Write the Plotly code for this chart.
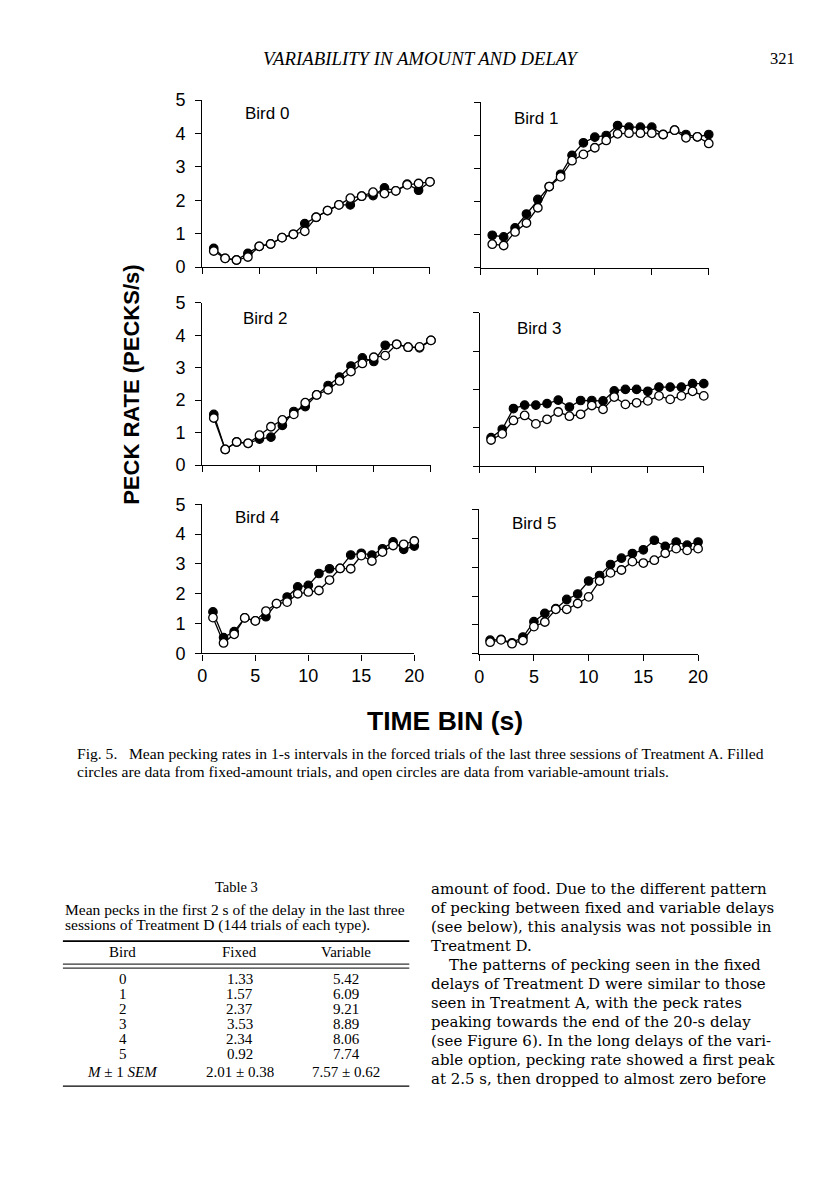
import plotly.graph_objects as go

# Figure size chosen so the page (with the browser's body margin) fits the window.
W, H = 800, 1184
# measured mapping from figure pixels to picture pixels: pic = OFF + SCALE * fig
SCALE = 0.983
OFF_X, OFF_Y = 13.0, 17.0

time_bins = list(range(1, 21))
x_ticks = [0, 5, 10, 15, 20]
y_ticks = [0, 1, 2, 3, 4, 5]
y_ticks_bird3 = [0, 1, 2, 3, 4]

bird_names = ["Bird 0", "Bird 1", "Bird 2", "Bird 3", "Bird 4", "Bird 5"]

bird0_fixed = [0.56, 0.26, 0.21, 0.41, 0.62, 0.69, 0.88, 0.98, 1.30, 1.49, 1.69, 1.86, 1.86, 2.12, 2.14, 2.37, 2.28, 2.48, 2.30, 2.55]
bird0_var = [0.48, 0.26, 0.21, 0.30, 0.62, 0.69, 0.88, 0.98, 1.07, 1.49, 1.69, 1.86, 2.06, 2.12, 2.24, 2.20, 2.28, 2.46, 2.50, 2.55]
bird1_fixed = [0.98, 0.93, 1.20, 1.62, 2.06, 2.45, 2.82, 3.39, 3.77, 3.94, 3.99, 4.29, 4.24, 4.24, 4.24, 4.02, 4.15, 4.02, 3.95, 4.02]
bird1_var = [0.71, 0.67, 1.08, 1.35, 1.81, 2.45, 2.74, 3.23, 3.42, 3.62, 3.84, 4.04, 4.06, 4.06, 4.06, 4.02, 4.15, 3.92, 3.95, 3.75]
bird2_fixed = [1.56, 0.48, 0.71, 0.67, 0.80, 0.86, 1.22, 1.65, 1.80, 2.16, 2.45, 2.71, 3.05, 3.30, 3.19, 3.69, 3.72, 3.63, 3.61, 3.84]
bird2_var = [1.45, 0.48, 0.71, 0.67, 0.92, 1.18, 1.39, 1.56, 1.92, 2.16, 2.32, 2.59, 2.88, 3.13, 3.32, 3.37, 3.72, 3.63, 3.64, 3.84]
bird3_fixed = [0.74, 0.96, 1.50, 1.59, 1.59, 1.63, 1.72, 1.54, 1.71, 1.71, 1.70, 1.96, 2.00, 2.00, 1.95, 2.06, 2.06, 2.06, 2.15, 2.15]
bird3_var = [0.68, 0.84, 1.19, 1.32, 1.10, 1.22, 1.41, 1.30, 1.35, 1.58, 1.48, 1.80, 1.61, 1.65, 1.70, 1.83, 1.74, 1.83, 1.95, 1.83]
bird4_fixed = [1.39, 0.53, 0.73, 1.19, 1.09, 1.23, 1.67, 1.89, 2.23, 2.28, 2.68, 2.84, 2.85, 3.30, 3.36, 3.30, 3.51, 3.74, 3.49, 3.60]
bird4_var = [1.20, 0.35, 0.64, 1.19, 1.09, 1.42, 1.67, 1.72, 2.00, 2.06, 2.11, 2.46, 2.85, 2.84, 3.28, 3.10, 3.40, 3.62, 3.66, 3.77]
bird5_fixed = [0.47, 0.50, 0.38, 0.58, 1.11, 1.40, 1.56, 1.88, 2.07, 2.52, 2.71, 3.09, 3.31, 3.47, 3.60, 3.93, 3.72, 3.87, 3.76, 3.87]
bird5_var = [0.40, 0.48, 0.35, 0.46, 0.94, 1.10, 1.54, 1.54, 1.74, 1.97, 2.52, 2.80, 2.90, 3.19, 3.14, 3.24, 3.48, 3.64, 3.58, 3.64]

fixed_series = [bird0_fixed, bird1_fixed, bird2_fixed, bird3_fixed, bird4_fixed, bird5_fixed]
var_series = [bird0_var, bird1_var, bird2_var, bird3_var, bird4_var, bird5_var]

header_text = "VARIABILITY IN AMOUNT AND DELAY"
page_number = "321"
y_title = "PECK RATE (PECKS/s)"
x_title = "TIME BIN (s)"
caption_lines = [
    "Fig. 5.   Mean pecking rates in 1-s intervals in the forced trials of the last three sessions of Treatment A. Filled",
    "circles are data from fixed-amount trials, and open circles are data from variable-amount trials.",
]
table_title = "Table 3"
table_caption = [
    "Mean pecks in the first 2 s of the delay in the last three",
    "sessions of Treatment D (144 trials of each type).",
]
table_header = ["Bird", "Fixed", "Variable"]
table_birds = ["0", "1", "2", "3", "4", "5", "<i>M</i> ± 1 <i>SEM</i>"]
table_fixed = ["1.33", "1.57", "2.37", "3.53", "2.34", "0.92", "2.01 ± 0.38"]
table_variable = ["5.42", "6.09", "9.21", "8.89", "8.06", "7.74", "7.57 ± 0.62"]
body_lines = [
    "amount of food. Due to the different pattern",
    "of pecking between fixed and variable delays",
    "(see below), this analysis was not possible in",
    "Treatment D.",
    "The patterns of pecking seen in the fixed",
    "delays of Treatment D were similar to those",
    "seen in Treatment A, with the peck rates",
    "peaking towards the end of the 20-s delay",
    "(see Figure 6). In the long delays of the vari-",
    "able option, pecking rate showed a first peak",
    "at 2.5 s, then dropped to almost zero before",
]


def fx(px):
    return ((px - OFF_X) / SCALE) / W


def fy(py):
    return 1 - ((py - OFF_Y) / SCALE) / H


# panel geometry in picture pixels: (x_left, x_right, y_bottom, y_top)
panels = [
    (202.7, 430.7, 266.0, 99.0),
    (481.7, 710.0, 266.7, 101.0),
    (202.7, 431.7, 464.0, 301.7),
    (480.7, 705.0, 465.0, 311.7),
    (202.7, 415.0, 652.3, 503.3),
    (480.0, 699.3, 652.7, 508.3),
]
label_pos = [(243, 112), (513, 117), (241, 317), (516, 327), (233, 516), (511, 522)]

SANS = "Liberation Sans, Arial, sans-serif"
SERIF = "Liberation Serif, Times New Roman, serif"
WIDE_SERIF = "DejaVu Serif, Liberation Serif, serif"

fig = go.Figure()
layout = dict(
    width=W, height=H, margin=dict(l=0, r=0, t=0, b=0),
    paper_bgcolor="white", plot_bgcolor="white", showlegend=False,
)

for i in range(6):
    xl, xr, yb, yt = panels[i]
    xa = "xaxis" if i == 0 else f"xaxis{i + 1}"
    ya = "yaxis" if i == 0 else f"yaxis{i + 1}"
    xref = "x" if i == 0 else f"x{i + 1}"
    yref = "y" if i == 0 else f"y{i + 1}"
    left = i % 2 == 0
    bottom = i >= 4
    yt_vals = y_ticks_bird3 if i == 3 else y_ticks
    layout[xa] = dict(
        domain=[fx(xl), fx(xr)], anchor=yref, range=[0, 20],
        tickvals=x_ticks, showticklabels=bottom,
        showline=True, linecolor="black", linewidth=1.4,
        ticks="outside", ticklen=6, tickwidth=1.4, tickcolor="black",
        showgrid=False, zeroline=False,
        tickfont=dict(family=SANS, size=18, color="black"),
    )
    layout[ya] = dict(
        domain=[fy(yb), fy(yt)], anchor=xref, range=[0, yt_vals[-1]],
        tickvals=yt_vals, showticklabels=left,
        showline=True, linecolor="black", linewidth=1.4,
        ticks="outside", ticklen=6, tickwidth=1.4, tickcolor="black",
        showgrid=False, zeroline=False, ticklabelstandoff=6,
        tickfont=dict(family=SANS, size=18, color="black"),
    )
    fig.add_trace(go.Scatter(
        x=time_bins, y=fixed_series[i], xaxis=xref, yaxis=yref,
        mode="lines+markers", cliponaxis=False,
        line=dict(color="black", width=1.3),
        marker=dict(symbol="circle", size=8.5, color="black", line=dict(color="black", width=1.2)),
    ))
    fig.add_trace(go.Scatter(
        x=time_bins, y=var_series[i], xaxis=xref, yaxis=yref,
        mode="lines+markers", cliponaxis=False,
        line=dict(color="black", width=1.3),
        marker=dict(symbol="circle", size=8.5, color="white", line=dict(color="black", width=1.3)),
    ))

fig.update_layout(**layout)

ann = []


def text(t, px, py, size, family=SERIF, xanchor="left", color="black", **kw):
    ann.append(dict(text=t, x=fx(px), y=fy(py), xref="paper", yref="paper",
                    xanchor=xanchor, yanchor="middle", showarrow=False,
                    font=dict(family=family, size=size, color=color), **kw))


for i in range(6):
    text(bird_names[i], label_pos[i][0], label_pos[i][1], 17, family=SANS)

# header
text("<i>" + header_text + "</i>", 422, 57, 18.8, xanchor="center")
text(page_number, 784, 57, 16.5, xanchor="center")

# axis titles
text("<b>" + y_title + "</b>", 131, 384, 22, family=SANS, xanchor="center", textangle=-90)
text("<b>" + x_title + "</b>", 446, 720, 26.5, family=SANS, xanchor="center")

# caption
text(caption_lines[0], 75, 752, 15.6)
text(caption_lines[1], 75, 770, 15.6)

# table
text(table_title, 237, 886, 14.5, xanchor="center")
text(table_caption[0], 63, 908, 15.5)
text(table_caption[1], 63, 924, 15.5)
col_x = [123, 240, 347]
for j, h in enumerate(table_header):
    text(h, col_x[j], 951, 15, xanchor="center")
row_y = [978, 993, 1008, 1023, 1038, 1053, 1071]
for r in range(len(table_birds)):
    py = row_y[r]
    text(table_birds[r], col_x[0], py, 15, xanchor="center")
    text(table_fixed[r], col_x[1], py, 15, xanchor="center")
    text(table_variable[r], col_x[2], py, 15, xanchor="center")

# body text
for k, line in enumerate(body_lines):
    px = 448 if k == 4 else 430
    text(line, px, 888 + 19 * k, 15.0, family=WIDE_SERIF)

fig.update_layout(annotations=ann)

shapes = []
for (y0, wdt) in [(940, 1.6), (963, 1.0), (967, 1.0), (1085, 1.3)]:
    shapes.append(dict(type="line", xref="paper", yref="paper",
                       x0=fx(63), x1=fx(410), y0=fy(y0), y1=fy(y0),
                       line=dict(color="black", width=wdt)))
fig.update_layout(shapes=shapes)

fig.write_html("out.html")
